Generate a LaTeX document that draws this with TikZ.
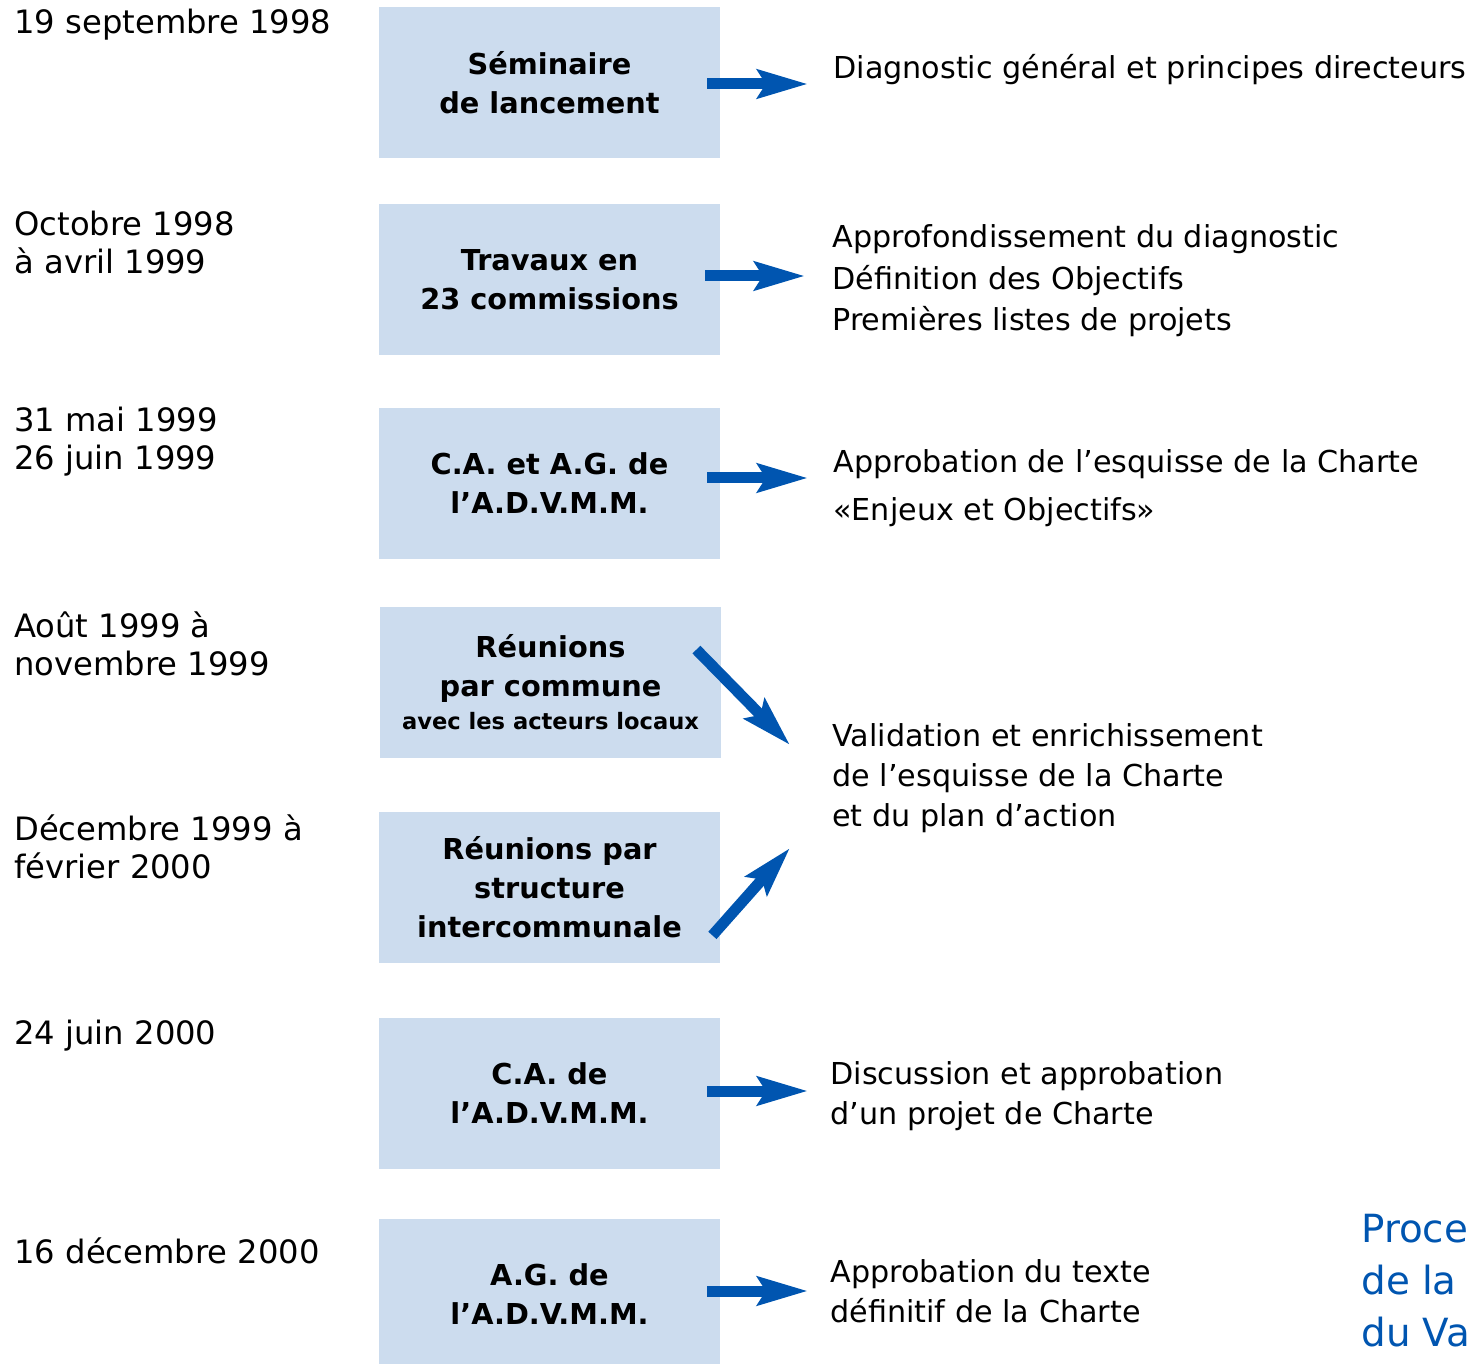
\documentclass[tikz,border=0pt]{standalone}
\usepackage{fontspec}
\setmainfont{DejaVu Sans}
\usetikzlibrary{arrows.meta}
\definecolor{boxblue}{RGB}{204,220,238}
\definecolor{arrowblue}{RGB}{0,85,176}

\begin{document}
\begin{tikzpicture}[
  x=0.5pt,y=-0.5pt,
  box/.style={fill=boxblue,minimum width=170.5pt,minimum height=75.5pt,inner sep=0pt,align=center,font=\fontsize{14.4}{19.5}\selectfont\bfseries},
  date/.style={anchor=west,inner sep=0pt,align=left,font=\fontsize{16.1}{19}\selectfont},
  result/.style={anchor=west,inner sep=0pt,align=left,font=\fontsize{15.1}{20}\selectfont},
  title/.style={anchor=west,inner sep=0pt,align=left,text=arrowblue,font=\fontsize{19.4}{26}\selectfont},
  to/.style={arrowblue,line width=5.5pt,-{Stealth[length=25pt,width=14pt,inset=4pt]}}]

  \useasboundingbox (0,0) rectangle (1474,1364);

  % Position the dates, the boxes and the results
  \node[date] (d1) at (14,25) {19 septembre 1998};
  \node[date] (d2) at (14,242) {Octobre 1998\\à avril 1999};
  \node[date] (d3) at (14,442) {31 mai 1999\\26 juin 1999};
  \node[date] (d4) at (14,644) {Août 1999 à\\novembre 1999};
  \node[date] (d5) at (14,847) {Décembre 1999 à\\février 2000};
  \node[date] (d6) at (14,1036) {24 juin 2000};
  \node[date] (d7) at (14,1251) {16 décembre 2000};

  \node[box] (b1) at (549.5,82.5) {Séminaire\\de lancement};
  \node[box] (b2) at (549.5,279.5) {Travaux en\\23 commissions};
  \node[box] (b3) at (549.5,483.5) {C.A. et A.G. de\\l’A.D.V.M.M.};
  \node[box] (b4) at (550.5,682.5) {Réunions\\par commune\\[-3pt]{\fontsize{11.3}{14}\selectfont avec les acteurs locaux}};
  \node[box] (b5) at (549.5,887.5) {Réunions par\\structure\\intercommunale};
  \node[box] (b6) at (549.5,1093.5) {C.A. de\\l’A.D.V.M.M.};
  \node[box] (b7) at (549.5,1294.5) {A.G. de\\l’A.D.V.M.M.};

  \node[result] (r1) at (833,70) {Diagnostic général et principes directeurs};
  \node[result,font=\fontsize{15.1}{20.75}\selectfont] (r2) at (832,281) {Approfondissement du diagnostic\\Définition des Objectifs\\Premières listes de projets};
  \node[result,font=\fontsize{15.1}{24}\selectfont] (r3) at (833,488) {Approbation de l’esquisse de la Charte\\«Enjeux et Objectifs»};
  \node[result] (r45) at (832,778) {Validation et enrichissement\\de l’esquisse de la Charte\\et du plan d’action};
  \node[result] (r6) at (830,1096) {Discussion et approbation\\d’un projet de Charte};
  \node[result] (r7) at (830,1291) {Approbation du texte\\définitif de la Charte};

  \node[title] (t) at (1361,1281) {Proce\\de la\\du Va};

  % Draw the arrows between the boxes and the results
  \draw[to] ([shift={(-13,1.5)}]b1.east) -- ([shift={(-25,14)}]r1.west);
  \draw[to] ([shift={(-15,-3.5)}]b2.east) -- ([shift={(-27,-5)}]r2.west);
  \draw[to] ([shift={(-13,-5.5)}]b3.east) -- ([shift={(-25,-10)}]r3.west);
  \draw[to] ([shift={(-25,43)}]b4.north east) -- ([shift={(-42,-33)}]r45.west);
  \draw[to] ([shift={(-8,-28)}]b5.south east) -- ([shift={(-42,70)}]r45.west);
  \draw[to] ([shift={(-13,-2.5)}]b6.east) -- ([shift={(-22,-5)}]r6.west);
  \draw[to] ([shift={(-13,-3.5)}]b7.east) -- ([shift={(-22,0)}]r7.west);
\end{tikzpicture}
\end{document}
